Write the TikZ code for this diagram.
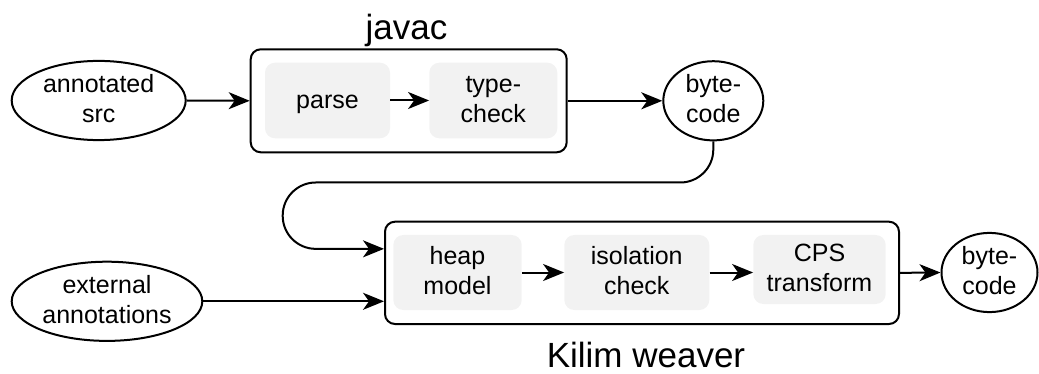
\documentclass[tikz,border=0pt]{standalone}
\usepackage{fontspec}
\setmainfont{Liberation Sans}
\usetikzlibrary{arrows.meta,shapes.geometric,calc}
\definecolor{stagefill}{HTML}{F2F2F2}

\tikzset{
  lbl/.style={font=\fontsize{25}{30}\selectfont, align=center, inner sep=0pt},
  twoline/.style={text height=50pt, text depth=6pt},
  oneline/.style={text height=20pt, text depth=4pt},
  io/.style={ellipse, draw, line width=2pt, lbl, twoline},
  stage/.style={rectangle, rounded corners=10pt, fill=stagefill, lbl},
  tool/.style={rectangle, rounded corners=10pt, draw, line width=2pt, inner sep=0pt},
  title/.style={font=\fontsize{35}{42}\selectfont, anchor=base, inner sep=0pt},
  conn/.style={line width=2pt, -{Stealth[length=21pt,width=17pt,inset=6pt]}}
}

\begin{document}
\begin{tikzpicture}[x=1pt,y=-1pt]
  \useasboundingbox (0,0) rectangle (1039,374);

  % javac stage
  \node[tool, minimum width=316pt, minimum height=103pt] (javac) at (408.7,100.8) {};
  \node[stage, oneline, minimum width=125pt, minimum height=75.6pt] (parse) at (327.5,100.5) {parse};
  \node[stage, twoline, minimum width=128pt, minimum height=75.6pt] (tcheck) at (493.3,100.5) {type-\\check};
  \node[title] (javactitle) at (406.5,39.3) {javac};

  % inputs and outputs
  \node[io, minimum width=174pt, minimum height=75.6pt] (src) at (98.7,100.5) {annotated\\src};
  \node[io, minimum width=100pt, minimum height=75pt] (bc1) at (713.3,100.8) {byte-\\code};
  \node[io, minimum width=190.6pt, minimum height=76pt] (ext) at (107,301.3) {external\\annotations};

  % Kilim weaver stage
  \node[tool, minimum width=514pt, minimum height=102.3pt] (kilim) at (642,272.85) {};
  \node[stage, twoline, minimum width=128.4pt, minimum height=75pt] (heap) at (457.5,272.5) {heap\\model};
  \node[stage, twoline, minimum width=145pt, minimum height=75pt] (iso) at (636.8,272.5) {isolation\\check};
  \node[stage, twoline, minimum width=132.4pt, minimum height=69pt] (cps) at (819.5,269.5) {CPS\\transform};
  \node[io, minimum width=96pt, minimum height=75pt] (bc2) at (989.5,272.5) {byte-\\code};
  \node[title] (kilimtitle) at (646,367.5) {Kilim weaver};

  \coordinate (loopin) at ($(kilim.west)+(0,-24)$);
  \coordinate (loopleft) at (282.7,182.5);

  % connectors
  \draw[conn] (src.east) -- (javac.west);
  \draw[conn] (parse.east) -- (tcheck.west);
  \draw[conn] (javac.east) -- (bc1.west);
  \draw[conn, rounded corners=33pt] (bc1.south) |- (loopleft) |- (loopin);
  \draw[conn] (ext.east) -- (ext.east -| kilim.west);
  \draw[conn] (heap.east) -- (iso.west);
  \draw[conn] (iso.east) -- (iso.east -| cps.west);
  \draw[conn] (kilim.east) -- (bc2.west);
\end{tikzpicture}
\end{document}
